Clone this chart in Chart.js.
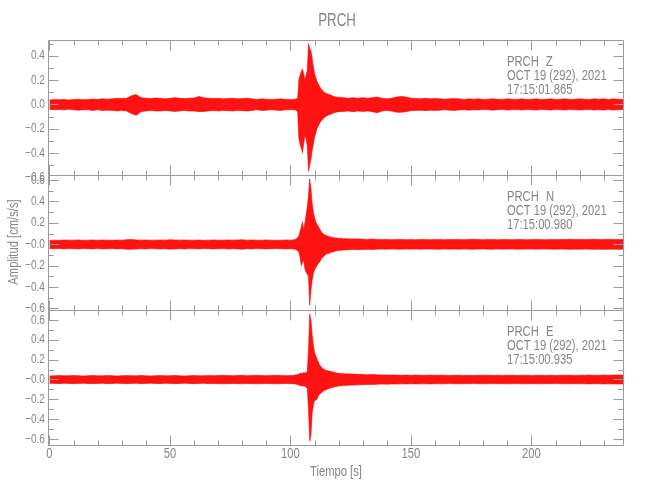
<!DOCTYPE html>
<html lang="es">
<head>
<meta charset="UTF-8">
<title>PRCH</title>
<script src="https://cdn.jsdelivr.net/npm/chart.js@4.4.1/dist/chart.umd.min.js"></script>
<style>
  html, body { margin: 0; padding: 0; background: #fff; }
  #wrap { position: relative; width: 650px; height: 500px; }
  #wrap canvas { position: absolute; left: 0; top: 0; }
</style>
</head>
<body>
<div id="wrap">
  <canvas id="chart-z" width="650" height="500"></canvas>
  <canvas id="chart-n" width="650" height="500"></canvas>
  <canvas id="chart-e" width="650" height="500"></canvas>
</div>
<script>
// time bins (s): 2 s steps while quiet, 0.5 s / 1 s around the arrival
const times = [
  0,2,4,6,8,10,12,14,16,18,20,22,24,26,28,30,32,34,36,38,40,42,44,46,48,50,52,54,56,58,60,62,64,66,68,70,72,74,76,78,80,82,84,86,88,90,92,94,96,98,100,
  101,102,103,103.5,104,104.5,105,105.5,106,106.5,107,107.5,108,108.5,109,109.5,110,110.5,111,111.5,112,113,114,115,116,117,118,119,120,
  122,124,126,128,130,132,134,136,138,140,142,144,146,148,150,152,154,156,158,160,162,164,166,168,170,172,174,176,178,180,182,184,186,188,190,192,194,196,198,200,202,204,206,208,210,212,214,216,218,220,222,224,226,228,230,232,234,236,238
];

// max / min of the trace in each bin (cm/s/s)
const zMax = [
  0.035,0.04,0.038,0.04,0.036,0.04,0.042,0.038,0.04,0.043, 0.04,0.045,0.042,0.045,0.05,0.048,0.05,0.07,0.08,0.055, 0.05,0.048,0.052,0.05,0.045,0.05,0.055,0.05,0.048,0.05, 0.052,0.065,0.055,0.05,0.048,0.05,0.045,0.048,0.05,0.045, 0.048,0.05,0.045,0.04,0.045,0.042,0.04,0.042,0.045,0.04, 0.04,
  0.04,0.042,0.05,0.2,0.24,0.27,0.29,0.25,0.2,0.24, 0.28,0.5,0.46,0.44,0.38,0.31,0.25,0.22,0.19,0.17, 0.15,0.12,0.1,0.09,0.08,0.075,0.065,0.06,0.058,
  0.055,0.05,0.055,0.05,0.055,0.05,0.055,0.06,0.05,0.045, 0.05,0.06,0.065,0.06,0.05,0.048,0.045,0.05,0.045,0.048, 0.045,0.042,0.045,0.048,0.045,0.04,0.045,0.042,0.045,0.04, 0.042,0.045,0.042,0.04,0.045,0.042,0.04,0.045,0.04,0.042, 0.045,0.04,0.042,0.045,0.04,0.042,0.045,0.04,0.042,0.045, 0.042,0.04,0.045,0.042,0.045,0.04,0.045,0.042,0.04
];
const zMin = [
  -0.04,-0.045,-0.042,-0.045,-0.04,-0.045,-0.048,-0.045,-0.045,-0.05, -0.045,-0.05,-0.048,-0.05,-0.055,-0.05,-0.055,-0.075,-0.09,-0.06, -0.055,-0.05,-0.055,-0.055,-0.05,-0.055,-0.058,-0.055,-0.05,-0.055, -0.055,-0.06,-0.058,-0.055,-0.05,-0.055,-0.05,-0.052,-0.055,-0.05, -0.052,-0.055,-0.05,-0.045,-0.05,-0.048,-0.045,-0.048,-0.05,-0.045, -0.045,
  -0.045,-0.045,-0.06,-0.28,-0.33,-0.36,-0.4,-0.32,-0.26,-0.28, -0.34,-0.55,-0.5,-0.45,-0.38,-0.33,-0.27,-0.24,-0.2,-0.18, -0.16,-0.13,-0.11,-0.095,-0.085,-0.08,-0.07,-0.065,-0.06,
  -0.058,-0.055,-0.06,-0.055,-0.058,-0.055,-0.06,-0.07,-0.055,-0.05, -0.055,-0.065,-0.065,-0.06,-0.052,-0.05,-0.048,-0.052,-0.048,-0.05, -0.048,-0.045,-0.048,-0.05,-0.046,-0.044,-0.048,-0.045,-0.046,-0.043, -0.045,-0.048,-0.044,-0.043,-0.047,-0.045,-0.043,-0.047,-0.043,-0.045, -0.047,-0.043,-0.045,-0.047,-0.043,-0.045,-0.047,-0.043,-0.045,-0.047, -0.045,-0.043,-0.047,-0.045,-0.047,-0.043,-0.047,-0.045,-0.043
];
const nMax = [
  0.035,0.038,0.036,0.04,0.037,0.038,0.04,0.036,0.038,0.04, 0.037,0.04,0.038,0.036,0.04,0.038,0.042,0.045,0.04,0.038, 0.04,0.037,0.038,0.04,0.038,0.042,0.04,0.038,0.04,0.037, 0.038,0.04,0.036,0.038,0.04,0.038,0.037,0.04,0.038,0.04, 0.042,0.038,0.04,0.037,0.038,0.04,0.038,0.036,0.038,0.04, 0.038,
  0.04,0.045,0.06,0.08,0.12,0.16,0.21,0.13,0.2,0.27, 0.35,0.46,0.61,0.52,0.38,0.3,0.25,0.21,0.19,0.17, 0.15,0.11,0.09,0.08,0.072,0.065,0.06,0.058,0.055,
  0.052,0.05,0.048,0.05,0.047,0.045,0.048,0.045,0.043,0.045, 0.042,0.044,0.045,0.042,0.044,0.042,0.045,0.043,0.042,0.044, 0.045,0.042,0.044,0.043,0.045,0.042,0.044,0.046,0.043,0.042, 0.044,0.045,0.042,0.044,0.043,0.042,0.045,0.044,0.042,0.043, 0.045,0.043,0.042,0.044,0.045,0.043,0.044,0.046,0.044,0.045, 0.043,0.045,0.046,0.044,0.045,0.046,0.044,0.045,0.044
];
const nMin = [
  -0.04,-0.042,-0.04,-0.044,-0.041,-0.042,-0.044,-0.04,-0.042,-0.044, -0.041,-0.044,-0.042,-0.04,-0.044,-0.042,-0.046,-0.048,-0.044,-0.042, -0.044,-0.041,-0.042,-0.044,-0.042,-0.046,-0.044,-0.042,-0.044,-0.041, -0.042,-0.044,-0.04,-0.042,-0.044,-0.042,-0.041,-0.044,-0.042,-0.044, -0.046,-0.042,-0.044,-0.041,-0.042,-0.044,-0.042,-0.04,-0.042,-0.044, -0.042,
  -0.044,-0.046,-0.06,-0.075,-0.12,-0.2,-0.17,-0.15,-0.23,-0.26, -0.28,-0.3,-0.57,-0.43,-0.34,-0.27,-0.24,-0.22,-0.2,-0.18, -0.17,-0.13,-0.11,-0.09,-0.085,-0.075,-0.07,-0.062,-0.058,
  -0.055,-0.052,-0.05,-0.052,-0.05,-0.048,-0.05,-0.047,-0.045,-0.047, -0.044,-0.046,-0.047,-0.044,-0.046,-0.044,-0.047,-0.045,-0.044,-0.046, -0.047,-0.044,-0.046,-0.045,-0.047,-0.044,-0.046,-0.048,-0.045,-0.044, -0.046,-0.047,-0.044,-0.046,-0.045,-0.044,-0.047,-0.046,-0.044,-0.045, -0.047,-0.045,-0.044,-0.046,-0.047,-0.045,-0.046,-0.048,-0.046,-0.047, -0.045,-0.047,-0.048,-0.046,-0.047,-0.048,-0.046,-0.047,-0.046
];
const eMax = [
  0.036,0.038,0.04,0.037,0.038,0.04,0.038,0.036,0.038,0.04, 0.038,0.037,0.04,0.038,0.036,0.038,0.04,0.038,0.037,0.04, 0.038,0.036,0.038,0.04,0.037,0.038,0.04,0.038,0.036,0.038, 0.04,0.038,0.037,0.04,0.038,0.04,0.042,0.04,0.038,0.04, 0.042,0.038,0.04,0.042,0.04,0.038,0.04,0.042,0.04,0.038, 0.04,
  0.04,0.045,0.05,0.055,0.06,0.065,0.06,0.07,0.065,0.07, 0.08,0.3,0.66,0.6,0.45,0.35,0.27,0.24,0.21,0.18, 0.15,0.12,0.1,0.09,0.085,0.08,0.072,0.066,0.062,
  0.058,0.055,0.055,0.052,0.05,0.048,0.05,0.047,0.045,0.046, 0.044,0.045,0.043,0.044,0.042,0.044,0.043,0.042,0.044,0.042, 0.043,0.042,0.04,0.042,0.043,0.041,0.042,0.04,0.042,0.043, 0.042,0.04,0.042,0.041,0.043,0.042,0.04,0.042,0.043,0.041, 0.042,0.043,0.041,0.042,0.04,0.042,0.043,0.042,0.041,0.043, 0.042,0.044,0.042,0.043,0.045,0.043,0.044,0.045,0.044
];
const eMin = [
  -0.038,-0.04,-0.042,-0.039,-0.04,-0.042,-0.04,-0.038,-0.04,-0.042, -0.04,-0.039,-0.042,-0.04,-0.038,-0.04,-0.042,-0.04,-0.039,-0.042, -0.04,-0.038,-0.04,-0.042,-0.039,-0.04,-0.042,-0.04,-0.038,-0.04, -0.042,-0.04,-0.039,-0.042,-0.04,-0.042,-0.044,-0.042,-0.04,-0.042, -0.044,-0.04,-0.042,-0.044,-0.042,-0.04,-0.042,-0.044,-0.042,-0.04, -0.042,
  -0.042,-0.046,-0.05,-0.056,-0.062,-0.06,-0.068,-0.064,-0.07,-0.075, -0.09,-0.3,-0.62,-0.56,-0.34,-0.26,-0.21,-0.21,-0.2,-0.17, -0.15,-0.13,-0.11,-0.1,-0.09,-0.082,-0.076,-0.07,-0.065,
  -0.06,-0.057,-0.056,-0.054,-0.052,-0.05,-0.051,-0.048,-0.046,-0.047, -0.045,-0.046,-0.044,-0.045,-0.043,-0.045,-0.044,-0.043,-0.045,-0.043, -0.044,-0.043,-0.041,-0.043,-0.044,-0.042,-0.043,-0.041,-0.043,-0.044, -0.043,-0.041,-0.043,-0.042,-0.044,-0.043,-0.041,-0.043,-0.044,-0.042, -0.043,-0.044,-0.042,-0.043,-0.041,-0.043,-0.044,-0.043,-0.042,-0.044, -0.043,-0.045,-0.043,-0.044,-0.046,-0.044,-0.045,-0.046,-0.045
];

// axis labels
const xTickVals = [0, 50, 100, 150, 200];
const xTickText = ['0', '50', '100', '150', '200'];
const zTickVals = [0.4, 0.2, 0.0, -0.2, -0.4, -0.6];
const zTickText = ['0.4', '0.2', '0.0', '\u22120.2', '\u22120.4', '\u22120.6'];
const neTickVals = [0.6, 0.4, 0.2, 0.0, -0.2, -0.4, -0.6];
const neTickText = ['0.6', '0.4', '0.2', '\u22120.0', '\u22120.2', '\u22120.4', '\u22120.6'];

const station = 'PRCH';
const dateText = 'OCT 19 (292), 2021';
const startTimes = { Z: '17:15:01.865', N: '17:15:00.980', E: '17:15:00.935' };

const FONT = "'Liberation Sans', Arial, sans-serif";
const GREY = '#858585';
const AXIS = '#9a9a9a';
const X_MIN = -0.6, X_MAX = 238;

// IDL's vector font is tall and narrow, so squeeze the text sideways
function text(ctx, str, x, y, size, align, sx, rot) {
    ctx.save();
    ctx.translate(x, y);
    if (rot) ctx.rotate(rot);
    ctx.scale(sx, 1);
    ctx.font = size + 'px ' + FONT;
    ctx.textAlign = align;
    ctx.textBaseline = 'middle';
    ctx.fillText(str, 0, 0);
    ctx.restore();
}

function makePanel(id, comp, yMax, yMin, ymin, ymax, tickVals, tickText, top, bottom, isLast) {
    const upper = times.map((t, i) => ({ x: t, y: yMax[i] }));
    const lower = times.map((t, i) => ({ x: t, y: yMin[i] }));

    const idlAxes = {
        id: 'idlAxes',
        afterDatasetsDraw(chart) {
            const { ctx, chartArea: a, scales: { x, y } } = chart;
            ctx.save();
            ctx.strokeStyle = AXIS;
            ctx.lineWidth = 1;
            const L = a.left + 0.5, R = a.right + 0.5, T = a.top + 0.5, B = a.bottom + 0.5;
            ctx.beginPath();
            ctx.moveTo(L, T); ctx.lineTo(R, T); ctx.lineTo(R, B); ctx.lineTo(L, B); ctx.closePath();

            // x ticks, inward from top and bottom
            for (let v = 0; v <= 230; v += 10) {
                const px = Math.round(x.getPixelForValue(v)) + 0.5;
                if (px < a.left || px > a.right) continue;
                const len = v % 50 === 0 ? 10 : 5;
                ctx.moveTo(px, T); ctx.lineTo(px, T + len);
                ctx.moveTo(px, B); ctx.lineTo(px, B - len);
            }
            // y ticks, inward from left and right
            for (let k = -7; k <= 7; k++) {
                const py = Math.round(y.getPixelForValue(k / 10)) + 0.5;
                if (py < a.top + 1 || py > a.bottom - 1) continue;
                const len = k % 2 === 0 ? 10 : 5;
                ctx.moveTo(L, py); ctx.lineTo(L + len, py);
                ctx.moveTo(R, py); ctx.lineTo(R - len, py);
            }
            ctx.stroke();

            ctx.fillStyle = GREY;
            tickVals.forEach((v, i) => {
                text(ctx, tickText[i], a.left - 3, y.getPixelForValue(v), 13, 'right', 0.78);
            });

            // station / component / start time
            text(ctx, station, 507, a.top + 22, 14, 'left', 0.8);
            text(ctx, comp, 546, a.top + 22, 14, 'left', 0.8);
            text(ctx, dateText, 507, a.top + 36, 14, 'left', 0.8);
            text(ctx, startTimes[comp], 507, a.top + 50, 14, 'left', 0.8);

            if (isLast) {
                xTickVals.forEach((v, i) => {
                    text(ctx, xTickText[i], x.getPixelForValue(v), 454, 14, 'center', 0.8);
                });
                text(ctx, 'Tiempo [s]', 336, 472, 14, 'center', 0.8);
                text(ctx, station, 337, 21, 19, 'center', 0.7);
                text(ctx, 'Amplitud [cm/s/s]', 14, 242, 14, 'center', 0.8, -Math.PI / 2);
            }
            ctx.restore();
        }
    };

    return new Chart(document.getElementById(id), {
        type: 'line',
        data: {
            datasets: [
                { data: upper, borderColor: 'rgba(255,0,0,0.6)', backgroundColor: 'rgba(255,0,0,0.93)', borderWidth: 1, pointRadius: 0, fill: '+1' },
                { data: lower, borderColor: 'rgba(255,0,0,0.6)', borderWidth: 1, pointRadius: 0, fill: false }
            ]
        },
        options: {
            responsive: false,
            animation: false,
            devicePixelRatio: 1,
            layout: { padding: { left: 48, right: 27, top: top, bottom: 500 - bottom } },
            plugins: { legend: { display: false }, tooltip: { enabled: false } },
            scales: {
                x: { type: 'linear', display: false, min: X_MIN, max: X_MAX },
                y: { type: 'linear', display: false, min: ymin, max: ymax }
            }
        },
        plugins: [idlAxes]
    });
}

makePanel('chart-z', 'Z', zMax, zMin, -0.581, 0.529, zTickVals, zTickText, 40, 175, false);
makePanel('chart-n', 'N', nMax, nMin, -0.615, 0.647, neTickVals, neTickText, 175, 310, false);
makePanel('chart-e', 'E', eMax, eMin, -0.66, 0.70, neTickVals, neTickText, 310, 445, true);
</script>
</body>
</html>
